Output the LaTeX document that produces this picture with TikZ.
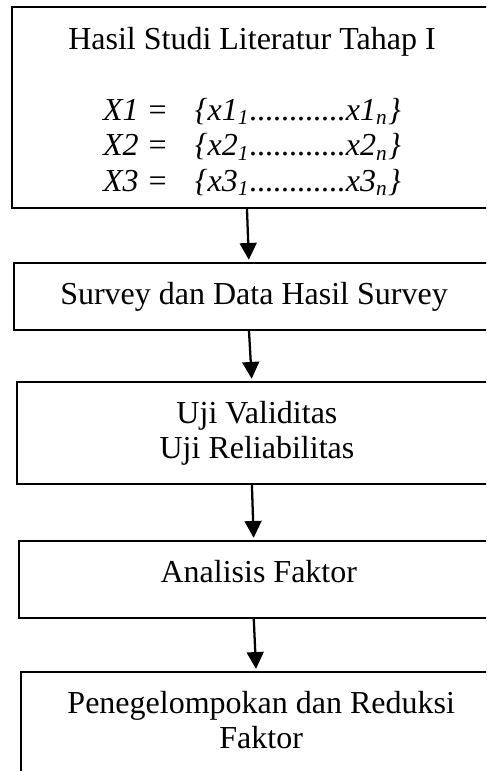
\documentclass[tikz,border=0pt,12pt]{standalone}
\usepackage{fontspec}
\setmainfont{Liberation Serif}
\usepackage{tikz}
\usetikzlibrary{arrows.meta,positioning}

\begin{document}
\begin{tikzpicture}[
    box/.style={rectangle, draw, line width=0.8pt, minimum width=180pt, inner sep=0pt, outer sep=0pt},
    txt/.style={inner sep=0pt, align=center, font=\fontsize{12}{13.3}\selectfont},
    arrow/.style={-{Triangle[width=6.3pt,length=6.3pt]}, line width=0.85pt, shorten >=1.2pt}
]
    \useasboundingbox (0,0) rectangle (182.25pt,-289.125pt);
    \clip (0,0) rectangle (182.25pt,-289.125pt);

    \node[box, minimum height=75.4pt, anchor=north west] (studi) at (4.5pt,-2.625pt) {};
    \node[box, minimum height=25.1pt, below=20.6pt of studi, xshift=0.75pt] (survey) {};
    \node[box, minimum height=38.25pt, below=19.5pt of survey, xshift=1.1pt] (uji) {};
    \node[box, minimum height=28.9pt, below=21.4pt of uji, xshift=0.7pt] (analisis) {};
    \node[box, minimum height=45pt, below=20.25pt of analisis, xshift=0.9pt] (reduksi) {};

    % texts sit at the top of each box
    \node[txt, below=7.3pt of studi.north] (studi-txt) {Hasil Studi Literatur Tahap I\\[13.3pt]
        \begin{tabular}[t]{@{}l@{\hspace{10pt}}l@{}}
        \textit{X1 =} & \textit{\{x1\textsubscript{1}............x1\textsubscript{n}\}}\\
        \textit{X2 =} & \textit{\{x2\textsubscript{1}............x2\textsubscript{n}\}}\\
        \textit{X3 =} & \textit{\{x3\textsubscript{1}............x3\textsubscript{n}\}}
        \end{tabular}};
    \node[txt, below=6.9pt of survey.north] (survey-txt) {Survey dan Data Hasil Survey};
    \node[txt, below=6.9pt of uji.north] (uji-txt) {Uji Validitas\\Uji Reliabilitas};
    \node[txt, below=6.9pt of analisis.north] (analisis-txt) {Analisis Faktor};
    \node[txt, below=6.9pt of reduksi.north] (reduksi-txt) {Penegelompokan dan Reduksi\\Faktor};

    \draw[arrow] ([xshift=-1.9pt]studi.south) -- ([xshift=-1.9pt]survey.north);
    \draw[arrow] ([xshift=-1.9pt]survey.south) -- ([xshift=-1.9pt]uji.north);
    \draw[arrow] ([xshift=-1.9pt]uji.south) -- ([xshift=-1.9pt]analisis.north);
    \draw[arrow] ([xshift=-1.9pt]analisis.south) -- ([xshift=-1.9pt]reduksi.north);
\end{tikzpicture}
\end{document}
